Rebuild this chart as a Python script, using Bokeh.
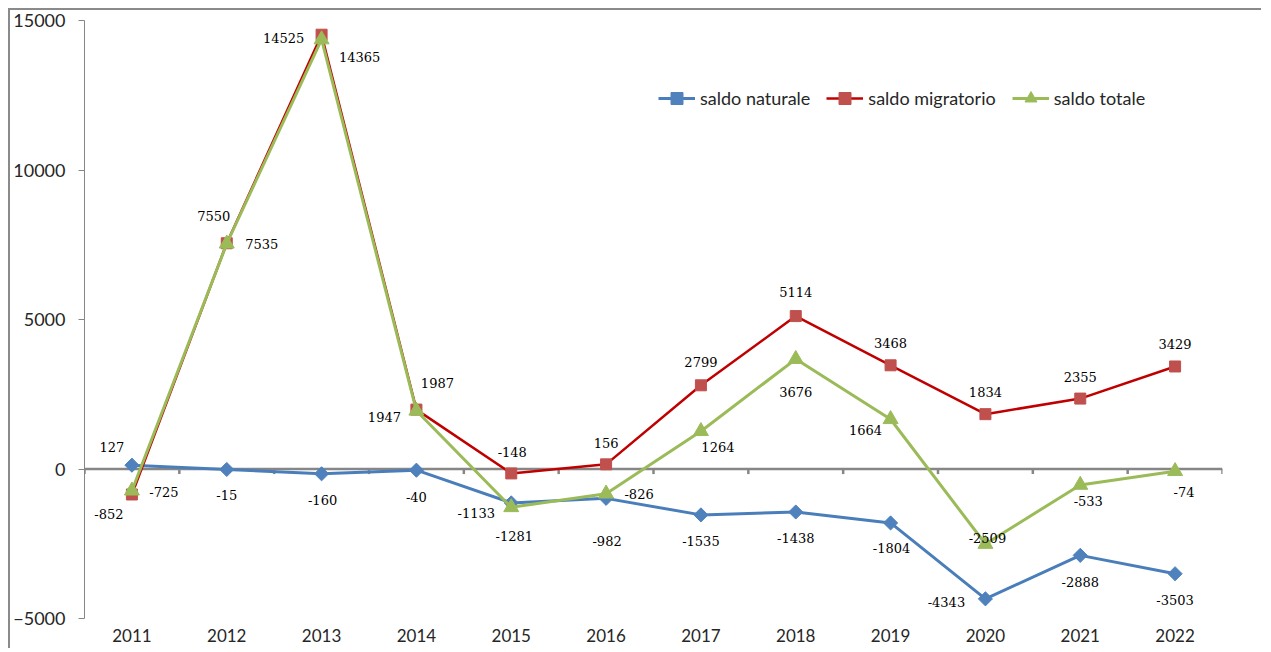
from bokeh.plotting import figure
from bokeh.models import ColumnDataSource, Span, FixedTicker, Legend, LegendItem
from bokeh.core.properties import value
from bokeh.embed import file_html
from bokeh.resources import INLINE

years = ["2011", "2012", "2013", "2014", "2015", "2016",
         "2017", "2018", "2019", "2020", "2021", "2022"]
saldo_naturale = [127, -15, -160, -40, -1133, -982, -1535, -1438, -1804, -4343, -2888, -3503]
saldo_migratorio = [-852, 7550, 14525, 1987, -148, 156, 2799, 5114, 3468, 1834, 2355, 3429]
saldo_totale = [-725, 7535, 14365, 1947, -1281, -826, 1264, 3676, 1664, -2509, -533, -74]
y_ticks = [-5000, 0, 5000, 10000, 15000]

# data-label offsets in screen pixels (dx, dy; dy positive = down)
nat_dx = [-20, 0, 1, 0, -35, 1, 0, 0, 1, -39, 0, 0]
nat_dy = [-18, 26, 26, 27, 10, 43, 26, 26, 25, 3, 27, 26]
mig_dx = [-23, -13, -38, 21, 1, 0, 0, 0, 0, 0, 0, 0]
mig_dy = [20, -27, 3, -27, -21, -21, -23, -24, -22, -22, -22, -22]
tot_dx = [32, 35, 38, -32, 3, 33, 17, 0, -25, 2, 8, 9]
tot_dy = [1, 0, 18, 6, 29, 0, 16, 33, 11, -6, 16, 21]

BLUE_L, BLUE_M = "#4A7EBB", "#4F81BD"
RED_L, RED_M = "#C00000", "#C0504D"
GREEN = "#9BBB59"
GRAY = "#868686"
TXT = "#262626"

xs = list(range(1, len(years) + 1))
bounds = [i + 0.5 for i in range(len(years) + 1)]

p = figure(width=1253, height=640, x_range=(0.5, len(years) + 0.5), y_range=(-5000, 15000),
           output_backend="svg", toolbar_location=None,
           min_border_left=72, min_border_top=10, min_border_right=41, min_border_bottom=32,
           styles={"margin-left": "8px", "margin-top": "8px",
                   "border-top": "2px solid #8a8a8a", "border-left": "2px solid #8a8a8a"})
p.outline_line_color = None
p.xgrid.visible = False
p.ygrid.visible = False

# y axis
p.yaxis.ticker = FixedTicker(ticks=y_ticks)
p.yaxis.axis_line_color = GRAY
p.yaxis.major_tick_line_color = GRAY
p.yaxis.major_tick_out = 6
p.yaxis.major_tick_in = 0
p.yaxis.minor_tick_line_color = None
p.yaxis.major_label_standoff = 13
p.yaxis.major_label_text_font = "Lato"
p.yaxis.major_label_text_font_size = "18px"
p.yaxis.major_label_text_color = TXT

# x axis (labels only, at bottom)
p.xaxis.ticker = FixedTicker(ticks=xs)
p.xaxis.major_label_overrides = {x: y for x, y in zip(xs, years)}
p.xaxis.axis_line_color = None
p.xaxis.major_tick_line_color = None
p.xaxis.minor_tick_line_color = None
p.xaxis.major_tick_out = 0
p.xaxis.major_label_standoff = 10
p.xaxis.major_label_text_font = "Lato"
p.xaxis.major_label_text_font_size = "17px"
p.xaxis.major_label_text_color = TXT

# category axis line at zero with tick marks between categories
p.add_layout(Span(location=0, dimension="width", line_color=GRAY, line_width=2.5, level="underlay"))
p.segment(x0=bounds, y0=[0] * len(bounds), x1=bounds, y1=[-170] * len(bounds),
          line_color=GRAY, line_width=2.5, level="underlay")

src_n = ColumnDataSource(dict(x=xs, y=saldo_naturale, t=[str(v) for v in saldo_naturale], dx=nat_dx, dy=nat_dy))
src_m = ColumnDataSource(dict(x=xs, y=saldo_migratorio, t=[str(v) for v in saldo_migratorio], dx=mig_dx, dy=mig_dy))
src_t = ColumnDataSource(dict(x=xs, y=saldo_totale, t=[str(v) for v in saldo_totale], dx=tot_dx, dy=tot_dy))

ln = p.line("x", "y", source=src_n, line_color=BLUE_L, line_width=3)
mn = p.scatter("x", "y", source=src_n, marker="square", angle=0.7854, size=10,
               fill_color=BLUE_M, line_color=BLUE_M)
lm = p.line("x", "y", source=src_m, line_color=RED_L, line_width=2.5)
mm = p.scatter("x", "y", source=src_m, marker="square", size=11,
               fill_color=RED_M, line_color=RED_M)
lt = p.line("x", "y", source=src_t, line_color=GREEN, line_width=3)
mt = p.scatter("x", "y", source=src_t, marker="triangle", size=15,
               fill_color=GREEN, line_color=GREEN)

for src in (src_n, src_m, src_t):
    p.text(x="x", y="y", text="t", x_offset="dx", y_offset="dy", source=src,
           text_font=value("DejaVu Serif"), text_font_size="13px",
           text_align="center", text_baseline="middle", text_color="#000000")

legend = Legend(items=[
    LegendItem(label="saldo naturale", renderers=[ln, mn]),
    LegendItem(label="saldo migratorio", renderers=[lm, mm]),
    LegendItem(label="saldo totale", renderers=[lt, mt]),
], orientation="horizontal", location=(574, 505), glyph_width=37, glyph_height=30,
    label_standoff=5, spacing=16, padding=0, margin=0,
    border_line_color=None, background_fill_alpha=0,
    label_text_font="Lato", label_text_font_size="18px", label_text_color=TXT)
p.add_layout(legend)

open("out.html", "w").write(file_html(p, INLINE))
